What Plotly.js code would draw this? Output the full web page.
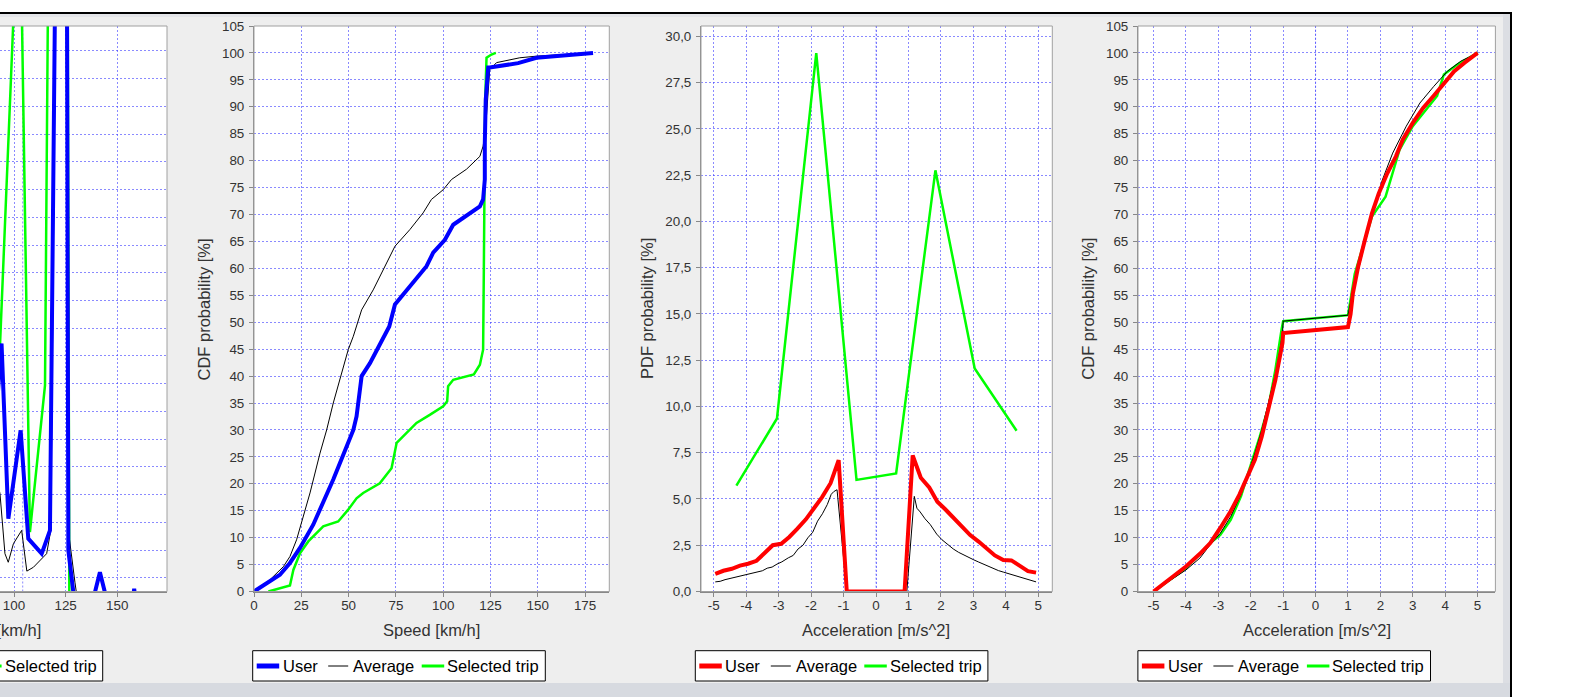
<!DOCTYPE html>
<html>
<head>
<meta charset="utf-8">
<script src="https://cdn.plot.ly/plotly-3.0.1.min.js"></script>
<style>
html,body{margin:0;padding:0;background:#ffffff;}
body{width:1588px;height:697px;overflow:hidden;position:relative;}
#frame{position:absolute;left:0;top:12px;width:1510px;height:685px;border-top:2px solid #000;border-right:2px solid #000;background:#EEEEEE;}
#tstrip{position:absolute;left:0;top:14px;width:1510px;height:3px;background:#E3E4E8;}
#band{position:absolute;left:0;top:683px;width:1510px;height:14px;background:#D7DAE0;}
#rstrip{position:absolute;left:1503px;top:14px;width:7px;height:669px;background:#DCDEE3;}
#chart{position:absolute;left:0;top:0;width:1588px;height:697px;}
</style>
</head>
<body>
<div id="frame"></div>
<div id="tstrip"></div>
<div id="rstrip"></div>
<div id="band"></div>
<div id="chart"></div>
<script>
// ---------------- DATA ----------------
const seriesNames = ['User', 'Average', 'Selected trip'];

// Panel 1: speed PDF (only its right part is on screen; y units = grid steps)
const speedPdfUserX = [91.5, 93.95, 97.24, 103.2, 106.9, 113.4, 117.4, 124.5, 126.3, 129.5, 137.6, 141.6, 145.6, 157.2, 158.2, 159.2, 180];
const speedPdfUserY = [7.0, 9.45, 3.13, 6.32, 2.41, 1.87, 2.71, 58.0, 1.99, 0.0, 0.0, 1.2, 0.0, 0.0, 0.6, 0.0, 0.0];
const speedPdfAvgX = [90.5, 93.2, 95.6, 97.2, 99.7, 103.7, 106.2, 109.4, 115.8, 117.8, 123.7, 126.3, 129.5, 131.1, 180];
const speedPdfAvgY = [5.0, 4.03, 1.87, 1.56, 2.23, 2.71, 1.24, 1.38, 1.87, 2.71, 50.0, 2.71, 0.84, 0.0, 0.0];
const speedPdfTripX = [88.0, 93.2, 102.7, 107.7, 115.0, 123.5, 126.8, 180];
const speedPdfTripY = [5.0, 9.39, 26.6, 2.65, 7.94, 90.0, 0.0, 0.0];
const speedPdfCrosshair = 104.2;

// Panel 2: speed CDF [%]
const speedCdfUserX = [0, 8.5, 13.7, 19, 24.3, 31.3, 36.6, 41.9, 47.2, 52.5, 54.2, 56, 56.9, 61.3, 65.5, 71.5, 74.5, 82.4, 91.2, 94.7, 100.9, 105.3, 112.3, 119.4, 121.1, 122, 122, 122.5, 123.8, 124.6, 139.6, 149.3, 179.2];
const speedCdfUserY = [0, 1.9, 3.1, 5.3, 8.1, 12.4, 16.4, 20.8, 25.4, 30, 32.5, 37.5, 40, 42.4, 45.3, 49.2, 53.3, 56.7, 60.4, 62.9, 65.3, 68.1, 69.7, 71.5, 72.8, 76.5, 83.3, 91.4, 97.3, 97.3, 98.1, 99.1, 100];
const speedCdfAvgX = [0, 8.5, 15.5, 19, 22.5, 26, 29.6, 34.9, 38.4, 41.9, 45.4, 49.8, 52.5, 56.9, 63, 68.3, 74.5, 82.4, 89.4, 93.8, 100, 104.4, 112.3, 119.4, 121.1, 122.5, 123.8, 124.6, 128.2, 140.5, 149.3, 179.2];
const speedCdfAvgY = [0, 2.2, 4.6, 6.5, 9.6, 13.9, 18.3, 25.7, 30, 35, 39.3, 44.9, 47.4, 52.3, 56, 59.8, 64.1, 67.2, 70.3, 72.8, 74.6, 76.5, 78.4, 80.8, 82.7, 86.4, 92.6, 96.9, 98.2, 99.1, 99.4, 100];
const speedCdfTripX = [7.6, 19, 20.8, 24.3, 28.7, 36.6, 44.5, 49.8, 54.2, 57.7, 66.5, 72.7, 75.4, 80.6, 85.9, 92.9, 100, 102.1, 102.6, 105.3, 116.2, 119.4, 121.1, 121.5, 121.8, 122.2, 122.9, 125.5, 127.8];
const speedCdfTripY = [0, 1.1, 4, 7.1, 9.3, 12.1, 13, 15.2, 17.3, 18.3, 20.1, 22.9, 27.6, 29.4, 31.3, 32.8, 34.4, 35.3, 38.1, 39.3, 40.3, 42.1, 44.9, 60.4, 72.8, 91.4, 99.1, 99.7, 100];

// Panel 3: acceleration PDF [%]
const accelPdfUserX = [-4.95, -4.70, -4.44, -4.19, -3.94, -3.68, -3.43, -3.18, -2.92, -2.67, -2.42, -2.16, -1.91, -1.66, -1.40, -1.15, -0.90, -0.64, -0.39, -0.14, 0.12, 0.37, 0.62, 0.88, 1.13, 1.38, 1.64, 1.89, 2.14, 2.40, 2.65, 2.90, 3.16, 3.41, 3.66, 3.92, 4.17, 4.42, 4.68, 4.93];
const accelPdfUserY = [0.95, 1.12, 1.23, 1.4, 1.5, 1.66, 2.08, 2.5, 2.58, 2.95, 3.4, 3.9, 4.5, 5.1, 5.85, 7.1, 0, 0, 0, 0, 0, 0, 0, 0, 7.35, 6.15, 5.62, 4.85, 4.43, 3.95, 3.45, 3.05, 2.7, 2.3, 1.95, 1.7, 1.68, 1.4, 1.1, 1.02];
const accelPdfAvgX = [-4.95, -4.8, -4.65, -4.5, -4.3, -4.1, -3.9, -3.7, -3.5, -3.35, -3.2, -3.05, -2.9, -2.7, -2.55, -2.4, -2.25, -2.1, -1.95, -1.8, -1.65, -1.5, -1.38, -1.3, -1.2, -0.9, 0.95, 1.18, 1.26, 1.36, 1.51, 1.67, 1.87, 2.03, 2.23, 2.38, 2.54, 2.69, 2.85, 3.0, 3.15, 3.31, 3.46, 3.62, 3.77, 3.92, 4.08, 4.23, 4.44, 4.59, 4.74, 4.93];
const accelPdfAvgY = [0.52, 0.55, 0.64, 0.7, 0.78, 0.86, 0.93, 1.04, 1.12, 1.26, 1.32, 1.48, 1.6, 1.82, 1.95, 2.3, 2.5, 2.9, 3.2, 3.8, 4.2, 4.7, 5.25, 5.4, 5.5, 0, 0, 5.14, 4.5, 4.3, 3.93, 3.62, 3.1, 2.8, 2.5, 2.3, 2.12, 1.98, 1.84, 1.72, 1.6, 1.48, 1.33, 1.22, 1.13, 1.05, 0.97, 0.9, 0.8, 0.72, 0.63, 0.52];
const accelPdfTripX = [-4.3, -3.05, -1.84, -0.6, 0.62, 1.83, 3.04, 4.33];
const accelPdfTripY = [5.72, 9.35, 29.1, 6.03, 6.38, 22.76, 12.05, 8.69];
const accelCrosshair = 0;

// Panel 4: acceleration CDF [%]
const accelCdfUserX = [-5.0, -4.53, -4.0, -3.57, -3.25, -2.94, -2.62, -2.35, -2.09, -1.87, -1.66, -1.45, -1.24, -1.02, -1.0, 1.0, 1.08, 1.15, 1.31, 1.52, 1.74, 1.95, 2.21, 2.48, 2.69, 3.0, 3.32, 3.64, 3.96, 4.28, 4.6, 5.0];
const accelCdfUserY = [0, 2.17, 4.65, 7.0, 9.0, 11.8, 14.9, 18, 21.4, 24.5, 28.8, 33.8, 39.3, 46.2, 48.0, 49.1, 51.5, 55.3, 60.2, 65.2, 70.2, 73.9, 77.6, 80.8, 83.9, 87, 89.8, 92, 94.4, 96.6, 98.2, 100];
const accelCdfAvgX = [-5.0, -4.43, -4.0, -3.57, -3.25, -2.94, -2.62, -2.3, -2.03, -1.87, -1.66, -1.4, -1.18, -1.02, -1.0, 1.0, 1.15, 1.37, 1.74, 2.06, 2.38, 2.8, 3.22, 3.65, 4.07, 4.49, 5.0];
const accelCdfAvgY = [0, 2.3, 4.0, 6.2, 8.7, 10.8, 13.9, 18, 22.6, 25.7, 30.0, 36.2, 41.8, 48, 50.2, 51.3, 55.9, 60.9, 70.2, 76.4, 81.4, 86.4, 90.7, 93.8, 96.6, 98.5, 100];
const accelCdfTripX = [-5.0, -4.0, -3.25, -2.94, -2.62, -2.3, -1.98, -1.72, -1.45, -1.24, -1.05, -1.0, 1.0, 1.21, 1.74, 2.16, 2.59, 3.0, 3.75, 3.96, 4.39, 5.0];
const accelCdfTripY = [0, 4.3, 9.0, 10.5, 13.3, 17.7, 23.9, 28.8, 34.4, 41.2, 48.6, 50.2, 51.3, 59, 69.6, 73.3, 82, 86.4, 92, 96, 97.9, 100];

// Tick labels and titles
const accelTickVals = [-5, -4, -3, -2, -1, 0, 1, 2, 3, 4, 5];
const accelTickText = ['-5', '-4', '-3', '-2', '-1', '0', '1', '2', '3', '4', '5'];
const speedTitle = 'Speed [km/h]';
const accelTitle = 'Acceleration [m/s^2]';
const cdfTitle = 'CDF probability [%]';
const pdfTitle = 'PDF probability [%]';

// ---------------- STYLE / LAYOUT ----------------
const FONT = '"Liberation Sans", Arial, Helvetica, sans-serif';
const W = 1588, H = 697;
const fx = v => v / W;
const fy = v => 1 - v / H;
const userColors = {1: '#0000FF', 2: '#0000FF', 3: '#FF0000', 4: '#FF0000'};
const seriesColors = n => [userColors[n], '#000000', '#00FF00'];
const seriesWidths = [4, 1, 2.5];

function makeTraces(n, tx, ty, ax, ay, ux, uy) {
  const sfx = n === 1 ? '' : String(n);
  const c = seriesColors(n);
  const common = {type: 'scatter', mode: 'lines', xaxis: 'x' + sfx, yaxis: 'y' + sfx,
                  showlegend: false, hoverinfo: 'skip'};
  return [
    Object.assign({}, common, {x: tx, y: ty, name: seriesNames[2], line: {color: c[2], width: seriesWidths[2]}}),
    Object.assign({}, common, {x: ax, y: ay, name: seriesNames[1], line: {color: c[1], width: seriesWidths[1]}}),
    Object.assign({}, common, {x: ux, y: uy, name: seriesNames[0], line: {color: c[0], width: seriesWidths[0]}})
  ];
}

const traces = [].concat(
  makeTraces(1, speedPdfTripX, speedPdfTripY, speedPdfAvgX, speedPdfAvgY, speedPdfUserX, speedPdfUserY),
  makeTraces(2, speedCdfTripX, speedCdfTripY, speedCdfAvgX, speedCdfAvgY, speedCdfUserX, speedCdfUserY),
  makeTraces(3, accelPdfTripX, accelPdfTripY, accelPdfAvgX, accelPdfAvgY, accelPdfUserX, accelPdfUserY),
  makeTraces(4, accelCdfTripX, accelCdfTripY, accelCdfAvgX, accelCdfAvgY, accelCdfUserX, accelCdfUserY)
);

const GRID = 'rgba(60,60,255,0.6)';
const yDom = [fy(591.5), fy(26)];
function axis(extra) {
  return Object.assign({
    showgrid: true, gridcolor: GRID, griddash: '2px,2px', gridwidth: 1,
    showline: true, linecolor: '#888888', linewidth: 1,
    ticks: 'outside', ticklen: 4, tickcolor: '#888888', tickwidth: 1,
    tickfont: {family: FONT, size: 13.4, color: '#333333'},
    zeroline: false, fixedrange: true, automargin: false, ticklabelstandoff: 2
  }, extra);
}
function xaxis(extra) { return axis(Object.assign({ticklabelstandoff: -3}, extra)); }

function outline(n, x0) {
  const s = n === 1 ? '' : String(n);
  return {type: 'rect', xref: 'x' + s + ' domain', yref: 'y' + s + ' domain', x0: x0, x1: 1, y0: 0, y1: 1,
          line: {color: '#A0A0A0', width: 1}, fillcolor: 'rgba(0,0,0,0)', layer: 'above'};
}
function crosshair(n, v, color) {
  const s = n === 1 ? '' : String(n);
  return {type: 'line', xref: 'x' + s, yref: 'y' + s + ' domain', x0: v, x1: v, y0: 0, y1: 1,
          line: {color: color, width: 1, dash: '2px,2px'}, layer: 'below'};
}
function title(text, x, y, vertical) {
  return {text: text, xref: 'paper', yref: 'paper', x: x, y: y, xanchor: 'center', yanchor: 'middle',
          showarrow: false, textangle: vertical ? -90 : 0,
          font: {family: FONT, size: 16.5, color: '#333333'}};
}

// Legend boxes (one per chart), laid out like the original Swing legends
const LEG = {top: 650.7, bottom: 681, mid: 666, width: 292.6,
             samples: [[4, 26.5], [75.5, 95.5], [169, 191.5]], texts: [30, 100.5, 194.5],
             sampleWidths: [5, 1, 3]};
function legendBox(n, left, visibleItems) {
  const c = seriesColors(n);
  const shapes = [{type: 'rect', xref: 'paper', yref: 'paper', x0: fx(left), x1: fx(left + LEG.width),
                   y0: fy(LEG.bottom), y1: fy(LEG.top), line: {color: '#000000', width: 1},
                   fillcolor: '#FFFFFF', layer: 'above'}];
  const notes = [];
  visibleItems.forEach(i => {
    shapes.push({type: 'line', xref: 'paper', yref: 'paper',
                 x0: fx(left + LEG.samples[i][0]), x1: fx(left + LEG.samples[i][1]),
                 y0: fy(LEG.mid), y1: fy(LEG.mid), line: {color: c[i], width: LEG.sampleWidths[i]}, layer: 'above'});
    notes.push({text: seriesNames[i], xref: 'paper', yref: 'paper', x: fx(left + LEG.texts[i]), y: fy(LEG.mid),
                xanchor: 'left', yanchor: 'middle', showarrow: false, borderpad: 0, borderwidth: 0,
                font: {family: FONT, size: 16.5, color: '#000000'}});
  });
  return {shapes, notes};
}
const legends = [
  legendBox(1, 102.7 - LEG.width, [2]),
  legendBox(2, 252.7, [0, 1, 2]),
  legendBox(3, 695.3, [0, 1, 2]),
  legendBox(4, 1137.9, [0, 1, 2])
];

const layout = {
  width: W, height: H, margin: {l: 0, r: 0, t: 0, b: 0, autoexpand: false},
  paper_bgcolor: 'rgba(0,0,0,0)', plot_bgcolor: '#FFFFFF',
  separators: ', ', showlegend: false, hovermode: false,
  font: {family: FONT},
  xaxis: xaxis({domain: [0, fx(167)], range: [93.2, 174.1], dtick: 25, tick0: 0, anchor: 'y'}),
  yaxis: axis({domain: yDom, range: [0.505, 20.9], dtick: 1, tick0: 0, anchor: 'x',
               showticklabels: false, ticks: '', showline: false}),
  xaxis2: xaxis({domain: [fx(254), fx(609.3)], range: [0, 187.8], dtick: 25, tick0: 0, anchor: 'y2'}),
  yaxis2: axis({domain: yDom, range: [0, 105], dtick: 5, tick0: 0, anchor: 'x2'}),
  xaxis3: xaxis({domain: [fx(701), fx(1052.3)], range: [-5.39, 5.43], tickmode: 'array',
                 tickvals: accelTickVals, ticktext: accelTickText, anchor: 'y3'}),
  yaxis3: axis({domain: yDom, range: [0, 30.56], dtick: 2.5, tick0: 0, tickformat: '.1f', anchor: 'x3'}),
  xaxis4: xaxis({domain: [fx(1138), fx(1495.4)], range: [-5.48, 5.55], tickmode: 'array',
                 tickvals: accelTickVals, ticktext: accelTickText, anchor: 'y4'}),
  yaxis4: axis({domain: yDom, range: [0, 105], dtick: 5, tick0: 0, anchor: 'x4'}),
  shapes: [
    outline(1, -0.05), outline(2, 0), outline(3, 0), outline(4, 0),
    crosshair(1, speedPdfCrosshair, GRID),
    crosshair(3, accelCrosshair, 'rgba(40,40,255,0.5)'),
    crosshair(4, accelCrosshair, 'rgba(40,40,255,0.5)')
  ].concat(...legends.map(l => l.shapes)),
  annotations: [
    title(speedTitle, fx(-8), fy(630), false),
    title(speedTitle, fx(431.7), fy(630), false),
    title(accelTitle, fx(876), fy(630), false),
    title(accelTitle, fx(1316.5), fy(630), false),
    title(cdfTitle, fx(203.5), fy(309), true),
    title(pdfTitle, fx(647), fy(309), true),
    title(cdfTitle, fx(1087.7), fy(309), true)
  ].concat(...legends.map(l => l.notes))
};

Plotly.newPlot('chart', traces, layout, {displayModeBar: false, staticPlot: true});
</script>
</body>
</html>
